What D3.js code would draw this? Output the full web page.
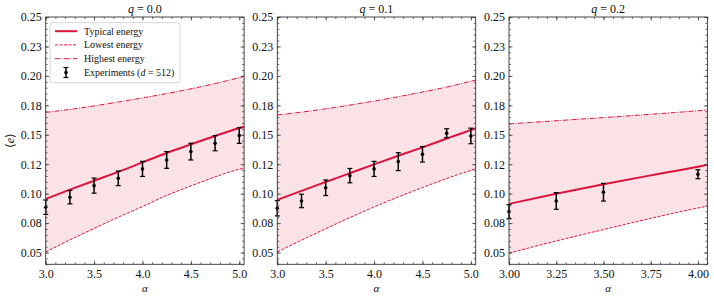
<!DOCTYPE html>
<html>
<head>
<meta charset="utf-8">
<script src="https://cdn.jsdelivr.net/npm/d3@7"></script>
<style>
  body { margin: 0; background: #fff; }
  .axis path.domain { display: none; }
  .axis line { stroke: #444; stroke-width: 0.8; }
</style>
</head>
<body>
<div id="chart"></div>
<script>
// curves are sampled on these alpha grids (last point = right edge of the panel)
const alphaGridLong = [3.0, 3.25, 3.5, 3.75, 4.0, 4.25, 4.5, 4.75, 5.0, 5.05];
const alphaGridShort = [3.0, 3.25, 3.5, 3.75, 4.0, 4.05];

const typicalQ0 = [0.0955, 0.1034, 0.111, 0.1185, 0.1265, 0.1345, 0.1418, 0.1490, 0.1557, 0.1569];
const lowestQ0 = [0.0505, 0.0607, 0.0705, 0.0800, 0.0890, 0.0985, 0.1065, 0.1142, 0.1207, 0.1216];
const highestQ0 = [0.1690, 0.1715, 0.1745, 0.1778, 0.1813, 0.1850, 0.1890, 0.1935, 0.1985, 0.1995];

const typicalQ1 = [0.0947, 0.1024, 0.1099, 0.1174, 0.1249, 0.1322, 0.1393, 0.1468, 0.1541, 0.1555];
const lowestQ1 = [0.0505, 0.0605, 0.0702, 0.0797, 0.0887, 0.0972, 0.1052, 0.1128, 0.1198, 0.1212];
const highestQ1 = [0.1668, 0.1692, 0.1720, 0.1752, 0.1786, 0.1823, 0.1863, 0.1905, 0.1955, 0.1965];

const typicalQ2 = [0.0913, 0.0999, 0.1079, 0.1155, 0.1229, 0.1245];
const lowestQ2 = [0.0495, 0.0598, 0.0695, 0.0790, 0.0878, 0.0893];
const highestQ2 = [0.1592, 0.1619, 0.1646, 0.1674, 0.1704, 0.1711];

// experiments (d = 512)
const expAlphaLong = [3.0, 3.25, 3.5, 3.75, 4.0, 4.25, 4.5, 4.75, 5.0];
const expMeanQ0 = [0.0885, 0.0970, 0.1068, 0.1130, 0.1210, 0.1286, 0.1357, 0.1428, 0.1493];
const expErrQ0 = [0.0061, 0.0057, 0.0064, 0.0062, 0.0064, 0.0071, 0.0071, 0.0064, 0.0066];
const expMeanQ1 = [0.0876, 0.0938, 0.1050, 0.1153, 0.1210, 0.1272, 0.1334, 0.1513, 0.1490];
const expErrQ1 = [0.0065, 0.0057, 0.0066, 0.0061, 0.0064, 0.0076, 0.0066, 0.0038, 0.0066];
const expAlphaShort = [3.0, 3.25, 3.5, 4.0];
const expMeanQ2 = [0.0847, 0.0938, 0.1012, 0.1165];
const expErrQ2 = [0.0060, 0.0071, 0.0075, 0.0038];

const qValues = ['0.0', '0.1', '0.2'];
const yTickValues = [0.05, 0.075, 0.10, 0.125, 0.15, 0.175, 0.20, 0.225, 0.25];
const yTickLabels = ['0.05', '0.08', '0.10', '0.12', '0.15', '0.18', '0.20', '0.23', '0.25'];
const xTicksLong = [3.0, 3.5, 4.0, 4.5, 5.0];
const xLabelsLong = ['3.0', '3.5', '4.0', '4.5', '5.0'];
const xTicksShort = [3.0, 3.25, 3.5, 3.75, 4.0];
const xLabelsShort = ['3.00', '3.25', '3.50', '3.75', '4.00'];
const legendLabels = ['Typical energy', 'Lowest energy', 'Highest energy'];

const RED = '#dc143c';
const FONT = 'Liberation Serif, DejaVu Serif, serif';
const W = 714;
const H = 298;

const panels = [
  { q: qValues[0], grid: alphaGridLong, typ: typicalQ0, low: lowestQ0, high: highestQ0,
    ex: expAlphaLong, mean: expMeanQ0, err: expErrQ0, ticks: xTicksLong, labels: xLabelsLong, minor: 0.1, legend: true },
  { q: qValues[1], grid: alphaGridLong, typ: typicalQ1, low: lowestQ1, high: highestQ1,
    ex: expAlphaLong, mean: expMeanQ1, err: expErrQ1, ticks: xTicksLong, labels: xLabelsLong, minor: 0.1 },
  { q: qValues[2], grid: alphaGridShort, typ: typicalQ2, low: lowestQ2, high: highestQ2,
    ex: expAlphaShort, mean: expMeanQ2, err: expErrQ2, ticks: xTicksShort, labels: xLabelsShort, minor: 0.05 },
];

const lefts = [45.7, 277.3, 509];
const pw = 198.4;
const plotTop = 17;
const plotBottom = 264.3;

const svg = d3.select('#chart').append('svg')
  .attr('width', W)
  .attr('height', H)
  .attr('font-family', FONT);

const y = d3.scaleLinear().domain([0.04, 0.25]).range([plotBottom, plotTop]);

panels.forEach((p, i) => {
  const g = svg.append('g').attr('transform', `translate(${lefts[i]},0)`);
  const xMax = p.grid[p.grid.length - 1];
  const x = d3.scaleLinear().domain([3, xMax]).range([0, pw]);
  const pts = p.grid.map((a, k) => ({ a, t: p.typ[k], lo: p.low[k], hi: p.high[k] }));

  g.append('path')
    .datum(pts)
    .attr('fill', RED)
    .attr('fill-opacity', 0.12)
    .attr('d', d3.area().x(d => x(d.a)).y0(d => y(d.lo)).y1(d => y(d.hi)).curve(d3.curveMonotoneX));

  const line = key => d3.line().x(d => x(d.a)).y(d => y(d[key])).curve(d3.curveMonotoneX);

  g.append('path').datum(pts)
    .attr('fill', 'none').attr('stroke', RED).attr('stroke-width', 1)
    .attr('stroke-dasharray', '3,1.5')
    .attr('d', line('lo'));
  g.append('path').datum(pts)
    .attr('fill', 'none').attr('stroke', RED).attr('stroke-width', 1)
    .attr('stroke-dasharray', '5,1.5,1,1.5')
    .attr('d', line('hi'));
  g.append('path').datum(pts)
    .attr('fill', 'none').attr('stroke', RED).attr('stroke-width', 2)
    .attr('d', line('t'));

  // error bars
  const ex = p.ex.map((a, k) => ({ a, m: p.mean[k], e: p.err[k] }));
  const eb = g.append('g').selectAll('g').data(ex).enter().append('g')
    .attr('transform', d => `translate(${x(d.a)},0)`);
  eb.append('line')
    .attr('y1', d => y(d.m - d.e)).attr('y2', d => y(d.m + d.e))
    .attr('stroke', '#000').attr('stroke-width', 1.5);
  eb.append('line')
    .attr('x1', -2.5).attr('x2', 2.5)
    .attr('y1', d => y(d.m + d.e)).attr('y2', d => y(d.m + d.e))
    .attr('stroke', '#000').attr('stroke-width', 1.2);
  eb.append('line')
    .attr('x1', -2.5).attr('x2', 2.5)
    .attr('y1', d => y(d.m - d.e)).attr('y2', d => y(d.m - d.e))
    .attr('stroke', '#000').attr('stroke-width', 1.2);
  eb.append('circle')
    .attr('cy', d => y(d.m)).attr('r', 1.8).attr('fill', '#000');

  // axes, ticks pointing inward on all four sides
  const xMinor = d3.range(3, xMax + 1e-9, p.minor);
  const yMinor = d3.range(0.04, 0.25 + 1e-9, 0.005);

  g.append('g').attr('class', 'axis').attr('transform', `translate(0,${plotBottom})`)
    .call(d3.axisBottom(x).tickValues(xMinor).tickSize(-2).tickFormat(''));
  g.append('g').attr('class', 'axis').attr('transform', `translate(0,${plotTop})`)
    .call(d3.axisTop(x).tickValues(xMinor).tickSize(-2).tickFormat(''));
  g.append('g').attr('class', 'axis')
    .call(d3.axisLeft(y).tickValues(yMinor).tickSize(-2).tickFormat(''));
  g.append('g').attr('class', 'axis').attr('transform', `translate(${pw},0)`)
    .call(d3.axisRight(y).tickValues(yMinor).tickSize(-2).tickFormat(''));

  const xa = g.append('g').attr('class', 'axis').attr('transform', `translate(0,${plotBottom})`)
    .call(d3.axisBottom(x).tickValues(p.ticks).tickSize(-3.5).tickPadding(5)
      .tickFormat((d, k) => p.labels[k]));
  g.append('g').attr('class', 'axis').attr('transform', `translate(0,${plotTop})`)
    .call(d3.axisTop(x).tickValues(p.ticks).tickSize(-3.5).tickFormat(''));
  const ya = g.append('g').attr('class', 'axis')
    .call(d3.axisLeft(y).tickValues(yTickValues).tickSize(-3.5).tickPadding(4)
      .tickFormat((d, k) => yTickLabels[k]));
  g.append('g').attr('class', 'axis').attr('transform', `translate(${pw},0)`)
    .call(d3.axisRight(y).tickValues(yTickValues).tickSize(-3.5).tickFormat(''));
  [xa, ya].forEach(a => {
    a.attr('font-family', FONT).attr('font-size', 12);
    a.selectAll('text').attr('fill', '#111');
  });

  g.append('rect')
    .attr('x', 0).attr('y', plotTop).attr('width', pw).attr('height', plotBottom - plotTop)
    .attr('fill', 'none').attr('stroke', '#333').attr('stroke-width', 0.9);

  const title = g.append('text')
    .attr('x', pw / 2).attr('y', 13)
    .attr('text-anchor', 'middle').attr('font-size', 12).attr('fill', '#111');
  title.append('tspan').attr('font-style', 'italic').text('q');
  title.append('tspan').text(` = ${p.q}`);

  g.append('text')
    .attr('x', pw / 2).attr('y', 292)
    .attr('text-anchor', 'middle').attr('font-size', 11).attr('font-style', 'italic')
    .attr('fill', '#111')
    .text('α');

  if (p.legend) {
    const lg = g.append('g').attr('transform', 'translate(4.3,5.7)');
    lg.append('rect')
      .attr('x', 0).attr('y', 17).attr('width', 130).attr('height', 60)
      .attr('rx', 2.5)
      .attr('fill', '#fff').attr('fill-opacity', 0.85)
      .attr('stroke', '#ccc').attr('stroke-width', 0.8);
    const rows = [25.5, 39.2, 53, 66.8];
    const styles = [
      { w: 2, dash: null },
      { w: 1, dash: '3,1.5' },
      { w: 1, dash: '5,1.5,1,1.5' },
    ];
    styles.forEach((s, k) => {
      lg.append('line')
        .attr('x1', 5).attr('x2', 27).attr('y1', rows[k]).attr('y2', rows[k])
        .attr('stroke', RED).attr('stroke-width', s.w)
        .attr('stroke-dasharray', s.dash);
      lg.append('text')
        .attr('x', 34).attr('y', rows[k]).attr('dy', '0.35em')
        .attr('font-size', 10).attr('fill', '#111').text(legendLabels[k]);
    });
    const ry = rows[3];
    lg.append('line').attr('x1', 16).attr('x2', 16).attr('y1', ry - 5).attr('y2', ry + 5)
      .attr('stroke', '#000').attr('stroke-width', 1.5);
    lg.append('line').attr('x1', 13.5).attr('x2', 18.5).attr('y1', ry - 5).attr('y2', ry - 5)
      .attr('stroke', '#000').attr('stroke-width', 1.2);
    lg.append('line').attr('x1', 13.5).attr('x2', 18.5).attr('y1', ry + 5).attr('y2', ry + 5)
      .attr('stroke', '#000').attr('stroke-width', 1.2);
    lg.append('circle').attr('cx', 16).attr('cy', ry).attr('r', 1.8).attr('fill', '#000');
    const t = lg.append('text').attr('x', 34).attr('y', ry).attr('dy', '0.35em')
      .attr('font-size', 10).attr('fill', '#111');
    t.append('tspan').text('Experiments (');
    t.append('tspan').attr('font-style', 'italic').text('d');
    t.append('tspan').text(' = 512)');
  }
});

// shared y label
const ylab = svg.append('text')
  .attr('transform', `translate(14,${(plotTop + plotBottom) / 2}) rotate(-90)`)
  .attr('text-anchor', 'middle').attr('font-size', 12).attr('fill', '#111');
ylab.append('tspan').text('⟨');
ylab.append('tspan').attr('font-style', 'italic').text('e');
ylab.append('tspan').text('⟩');
</script>
</body>
</html>
